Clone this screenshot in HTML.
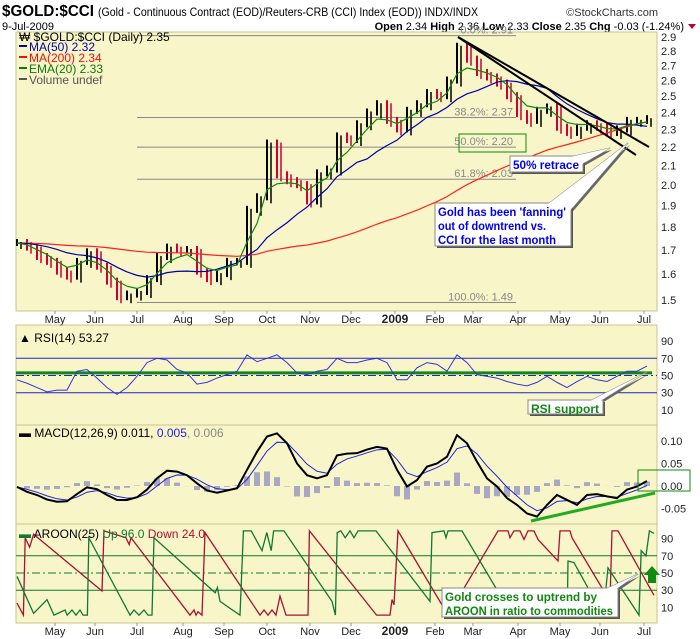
<!DOCTYPE html>
<html><head><meta charset="utf-8">
<style>
body{margin:0;background:#fff;}
svg{display:block;font-family:"Liberation Sans",sans-serif;}
.ax{font-size:11px;fill:#222;}
</style></head>
<body>
<svg id="c" width="700" height="639" viewBox="0 0 700 639">
  <text x="2" y="16" font-size="16" font-weight="bold" textLength="92" lengthAdjust="spacingAndGlyphs">$GOLD:$CCI</text>
  <text x="98" y="16" font-size="12" textLength="380" lengthAdjust="spacingAndGlyphs">(Gold - Continuous Contract (EOD)/Reuters-CRB (CCI) Index (EOD))  INDX/INDX</text>
  <text x="658" y="16" font-size="11" text-anchor="end" fill="#333">©StockCharts.com</text>
  <text x="2" y="30" font-size="11">9-Jul-2009</text>
  <text x="684" y="30" font-size="11" text-anchor="end"><tspan font-weight="bold">Open</tspan> 2.34 <tspan font-weight="bold">High</tspan> 2.36 <tspan font-weight="bold">Low</tspan> 2.33 <tspan font-weight="bold">Close</tspan> 2.35 <tspan font-weight="bold">Chg</tspan> -0.03 (-1.24%)</text>
  <path d="M688 24 L696 24 L692 29 Z" fill="#C00030"/>
  <g id="g"></g>
</svg>
<script>
// ---- data ----
const monthLabels = ["May","Jun","Jul","Aug","Sep","Oct","Nov","Dec","2009","Feb","Mar","Apr","May","Jun","Jul"];
const monthDays = [19.5,39.5,60.5,83.5,104,125.5,147,167.5,189.5,209.5,228.5,251,272,292,314];
const weekDays = [];
for (let i=0;i<64;i++) weekDays.push(0.5+5*i);
const closes = [1.73,1.71,1.67,1.65,1.61,1.59,1.65,1.69,1.63,1.57,1.51,1.52,1.53,1.58,1.67,1.71,1.70,1.70,1.61,1.58,1.60,1.65,1.65,1.88,1.94,2.22,2.05,2.02,2.00,1.92,2.06,2.08,2.26,2.24,2.33,2.40,2.45,2.35,2.30,2.41,2.45,2.52,2.50,2.60,2.83,2.74,2.65,2.62,2.58,2.50,2.39,2.35,2.41,2.43,2.31,2.28,2.31,2.33,2.31,2.28,2.30,2.35,2.35,2.36];
const fibLevels = [2.91,2.37,2.20,2.03,1.49];
const fibNames = ["0.0%: 2.91","38.2%: 2.37","50.0%: 2.20","61.8%: 2.03","100.0%: 1.49"];
const priceTicks = [1.5,1.6,1.7,1.8,1.9,2.0,2.1,2.2,2.3,2.4,2.5,2.6,2.7,2.8,2.9];
const rsiVals = [45,41,36,31,33,33,55,57,47,36,28,36,49,65,70,68,57,53,40,42,47,51,55,74,66,70,74,65,53,51,55,57,70,65,65,68,70,65,45,45,59,65,63,55,74,65,51,49,47,43,40,38,42,49,42,36,43,49,45,43,49,55,55,61];
const rsiTicks = [10,30,50,70,90];
const macdVals = [-0.002,-0.013,-0.020,-0.030,-0.035,-0.034,-0.018,-0.003,-0.007,-0.020,-0.031,-0.031,-0.025,-0.008,0.017,0.034,0.032,0.024,0.006,-0.010,-0.015,-0.010,-0.005,0.036,0.076,0.110,0.117,0.095,0.050,0.024,0.017,0.024,0.068,0.072,0.073,0.081,0.087,0.083,0.036,-0.001,0.013,0.043,0.050,0.065,0.113,0.095,0.054,0.017,-0.001,-0.027,-0.042,-0.061,-0.068,-0.042,-0.020,-0.031,-0.042,-0.020,-0.018,-0.023,-0.027,-0.008,-0.001,0.011];
const macdTicks = [-0.05,0.00,0.05,0.10];
const macdTickLabels = ["-0.05","0.00","0.05","0.10"];
const upDays = [0.5,8.8,15.5,19,24.5,25.6,28,30,32,33.5,35.7,36.4,57,59,61.5,64,66,68,69,99.6,100.7,102,112,113.7,117.6,123,125.4,127.6,128.8,134,158,159.7,160.6,162.4,164.6,167,169,171,180,207,208,214,215,216,223,248,275.6,276,279,293.6,296,311.5,312.6,315,316.7,319];
const upVals = [46,3,19,1,7,1,7,1,7,1,1,91,1,7,1,7,1,1,91,27,33,17,1,99,99,76,97,76,99,99,17,1,97,99,91,99,91,99,99,17,97,99,91,99,99,1,1,64,62,1,56,1,76,70,99,96];
const downDays = [0.5,3.7,4.6,6.8,8.8,43,44,55,56.6,57.5,87,89,90,91,93,94.5,122,124,126,128,130,132,135,146,146.7,180.3,187,188,189,191,216,241,246,247,249,252,254,256,259,261,271,272,277,278,297,298,301,319];
const downVals = [15,1,91,80,95,29,99,91,83,91,1,7,1,5,1,97,1,7,1,7,1,23,1,1,99,1,1,19,13,99,1,99,99,91,99,99,89,99,99,89,64,99,99,91,17,99,99,24];
const aroonTicks = [10,30,50,70,90];

// ---- geometry ----
const L=16,R=657;
const X = d => 16 + d*2;
const PY = v => 461.5 - 918*Math.log10(v);
const RY = v => 375.5 - (v-50)*0.86;
const MY = v => 486 - v*450;
const AY = v => 616 - v*0.86;
const NS="http://www.w3.org/2000/svg";
const g=document.getElementById('g');
function el(tag, attrs, parent){const e=document.createElementNS(NS,tag);for(const k in attrs)e.setAttribute(k,attrs[k]);(parent||g).appendChild(e);return e;}
function txt(x,y,s,attrs,parent){const e=el('text',Object.assign({x:x,y:y},attrs||{}),parent);e.textContent=s;return e;}

function panel(name,y0,y1){
  const r=el('rect',{x:L,y:y0,width:R-L,height:y1-y0,fill:'#F8F6C8',stroke:'#C8C48C','stroke-width':1});
  
  
}
panel('price-panel',32,311);
panel('rsi-panel',325,425);
panel('macd-panel',425,524);
panel('aroon-panel',524,623);

function months(y,ticky,name){
  const gg=el('g',{});
  
  
  monthLabels.forEach((m,i)=>{
    const x=X(monthDays[i]);
    el('line',{x1:x,x2:x,y1:ticky,y2:ticky+3,stroke:'#999'},gg);
    const t=txt(x,y,m,{'text-anchor':'middle','font-size':m==='2009'?12:11,'font-weight':m==='2009'?'bold':'normal',fill:'#222'},gg);
    
    
  });
}
months(323,311,'price-x-axis');
months(635,623,'aroon-x-axis');

// ---- price panel ----
priceTicks.forEach(v=>{
  const t=txt(661,PY(v)+4,v.toFixed(1),{class:'ax'});
  
  
});
fibLevels.forEach((v,i)=>{
  const l=el('line',{x1:137,x2:516,y1:PY(v),y2:PY(v),stroke:'#888','stroke-width':1});
  
  
  const t=txt(513,PY(v)-2,fibNames[i],{'text-anchor':'end','font-size':11,fill:'#888'});
  
  
});
closes.forEach((c,i)=>{
  const o = i>0?closes[i-1]:c;
  const hi=Math.max(o,c), lo=Math.min(o,c);
  const x=X(weekDays[i]);
  const col = c<o ? '#CC0033' : '#000';
  const b=el('line',{x1:x,x2:x,y1:PY(hi)-4,y2:PY(lo)+3,stroke:col,'stroke-width':2});
  
  
  const b2=el('line',{x1:x+4,x2:x+4,y1:PY(hi)-1,y2:PY(lo)+6,stroke:col,'stroke-width':1.5});
  
  
});
function sma(arr,n){return arr.map((v,i)=>{let s=0;for(let k=i-n+1;k<=i;k++)s+=arr[Math.max(0,k)];return s/n;});}
function ema(arr,a){let e=arr[0];return arr.map(v=>(e=e+a*(v-e)));}
function poly(vals,days,yf,color,w,name,extra){
  const p=el('polyline',Object.assign({points:vals.map((v,i)=>X(days[i])+','+yf(v)).join(' '),fill:'none',stroke:color,'stroke-width':w},extra||{}));
  
  
  return p;
}
poly(sma(closes,40),weekDays,PY,'#FF2020',1.2,'ma200-line');
poly(sma(closes,10),weekDays,PY,'#0000AA',1.2,'ma50-line');
poly(ema(closes,0.4),weekDays,PY,'#118811',1.2,'ema20-line');
const tl1=el('line',{x1:458,y1:37,x2:636,y2:155,stroke:'#000','stroke-width':2});


const tl2=el('line',{x1:458,y1:37,x2:649,y2:147,stroke:'#000','stroke-width':2});


const lg=el('g',{});


txt(19,41,'₩ $GOLD:$CCI (Daily) 2.35',{'font-size':12,fill:'#000'},lg);
[['MA(50) 2.32','#0000AA'],['MA(200) 2.34','#EE1111'],['EMA(20) 2.33','#117711'],['Volume undef','#555']].forEach((a,i)=>{
  el('rect',{x:19,y:45+i*11,width:8,height:2,fill:a[1]},lg);
  txt(29,51+i*11,a[0],{'font-size':12,fill:a[1]},lg);
});
function callout(name,bx,by,bw,bh,tip,base,lines,lens,color){
  const gg=el('g',{});
  
  
  el('polygon',{points:`${base[0]+2},${base[1]+2} ${tip[0]+2},${tip[1]+2} ${base[2]+2},${base[3]+2}`,fill:'#666'},gg);
  el('polygon',{points:`${base[0]},${base[1]} ${tip[0]},${tip[1]} ${base[2]},${base[3]}`,fill:'#fff',stroke:'#888'},gg);
  el('rect',{x:bx+2,y:by+2,width:bw,height:bh,fill:'#555'},gg);
  el('rect',{x:bx,y:by,width:bw,height:bh,fill:'#fff',stroke:'#888'},gg);
  el('polygon',{points:`${base[0]},${base[1]} ${tip[0]},${tip[1]} ${base[2]},${base[3]}`,fill:'#fff'},gg);
  lines.forEach((s,i)=>txt(bx+3,by+13+i*14,s,{'font-size':12,'font-weight':'bold',fill:color,textLength:lens[i],lengthAdjust:'spacingAndGlyphs'},gg));
}
callout('retrace-callout',510,156,73,16,[610,148],[570,157,582,164],['50% retrace'],[66],'#0000EE');
callout('fanning-callout',435,203,136,43,[628,143],[548,204,567,214],["Gold has been 'fanning'","out of downtrend vs.","CCI for the last month"],[128,108,118],'#0000EE');
const fb=el('rect',{x:459,y:134,width:67,height:18,fill:'none',stroke:'#118811'});



// ---- RSI ----
rsiTicks.forEach(v=>{const t=txt(661,RY(v)+4,String(v),{class:'ax'});});
[70,30].forEach(v=>{const l=el('line',{x1:L,x2:R,y1:RY(v),y2:RY(v),stroke:'#2222CC'});});
const rm=el('line',{x1:L,x2:R,y1:RY(50),y2:RY(50),stroke:'#2222CC','stroke-dasharray':'8,3,2,3'});


const rs=el('line',{x1:L,x2:652,y1:RY(53),y2:RY(53),stroke:'#118811','stroke-width':3});


poly(rsiVals,weekDays,RY,'#3333DD',1,'rsi-line');
const rl=txt(19,342,'▲ RSI(14) 53.27',{'font-size':12});


callout('rsi-support-callout',528,400,75,14,[647,372],[590,401,600,401],['RSI support'],[68],'#118811');

// ---- MACD ----
macdTicks.forEach((v,i)=>{const t=txt(661,MY(v)+4,macdTickLabels[i],{class:'ax'});});
const sig=ema(macdVals,0.5);
macdVals.forEach((v,i)=>{
  const h=v-sig[i]; const x=X(weekDays[i]);
  const r=el('rect',{x:x-3,y:Math.min(MY(0),MY(h)),width:6,height:Math.abs(MY(h)-MY(0)),fill:'#A8A8C4'});
  
  
});
poly(sig,weekDays,MY,'#2222DD',1,'macd-signal-line');
poly(macdVals,weekDays,MY,'#000',2,'macd-line');
const mt=el('line',{x1:531,y1:521,x2:655,y2:493,stroke:'#22AA22','stroke-width':3});


const mb=el('rect',{x:638,y:470,width:52,height:21,fill:'none',stroke:'#118811'});


const ml=txt(19,437,'',{'font-size':12});
ml.innerHTML='<tspan>▬ MACD(12,26,9) 0.011, </tspan><tspan fill="#2222DD">0.005</tspan><tspan fill="#888">, 0.006</tspan>';



// ---- Aroon ----
aroonTicks.forEach(v=>{const t=txt(661,AY(v)+4,String(v),{class:'ax'});});
[70,30].forEach(v=>{const l=el('line',{x1:L,x2:R,y1:AY(v),y2:AY(v),stroke:'#117733'});});
const am=el('line',{x1:L,x2:R,y1:AY(50),y2:AY(50),stroke:'#117733','stroke-dasharray':'8,3,2,3'});


poly(downVals,downDays,AY,'#AA1133',1.3,'aroon-down-line');
poly(upVals,upDays,AY,'#117733',1.3,'aroon-up-line');
const al=txt(19,538,'',{'font-size':12});
al.innerHTML='<tspan fill="#117733">▬ </tspan><tspan>AROON(25) </tspan><tspan fill="#117733">Up 96.0 </tspan><tspan fill="#AA1133">Down 24.0</tspan>';


callout('aroon-callout',442,588,176,29,[638,574],[606,589,616,589],['Gold crosses to uptrend by','AROON in ratio to commodities'],[152,168],'#118811');
const ua=el('polygon',{points:'652,566 660,575 656,575 656,583 648,583 648,575 644,575',fill:'#118811'});


</script>
</body></html>
